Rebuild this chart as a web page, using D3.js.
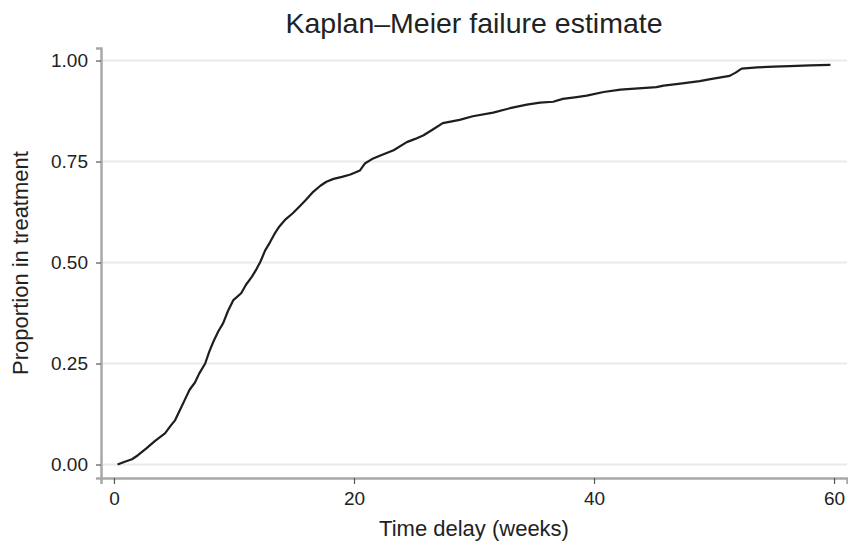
<!DOCTYPE html>
<html>
<head>
<meta charset="utf-8">
<script src="https://cdn.jsdelivr.net/npm/d3@7"></script>
<style>
  html, body { margin: 0; padding: 0; background: #fff; }
  svg text { font-family: "Liberation Sans", Arial, Helvetica, sans-serif; fill: #222; }
</style>
</head>
<body>
<div id="chart"></div>
<script>
// Kaplan-Meier failure estimate

const weeks = [0.3, 0.9, 1.5, 2.0, 2.7, 3.4, 4.25, 4.7, 5.1, 5.5, 5.9, 6.3, 6.75, 7.1, 7.6, 7.95,
    8.3, 8.7, 9.1, 9.5, 9.95, 10.6, 11.0, 11.5, 11.9, 12.2, 12.6, 13.0, 13.4, 13.8, 14.3, 14.9,
    15.5, 16.06, 16.6, 17.2, 17.7, 18.3, 19.0, 19.7, 20.5, 20.9, 21.5, 22.2, 23.3, 24.4, 25.1,
    25.8, 26.6, 27.4, 28.8, 29.9, 31.6, 33.0, 34.4, 35.5, 36.6, 37.4, 38.4, 39.4, 40.8, 42.2,
    43.7, 45.2, 45.8, 47.2, 48.8, 49.7, 51.3, 51.8, 52.3, 53.6, 55.0, 56.3, 58.0, 59.7];
const failure = [0, 0.007, 0.013, 0.023, 0.04, 0.058, 0.077, 0.095, 0.11, 0.135, 0.16, 0.185,
    0.203, 0.225, 0.25, 0.28, 0.305, 0.33, 0.35, 0.38, 0.407, 0.424, 0.445, 0.465, 0.485, 0.502,
    0.53, 0.55, 0.572, 0.59, 0.607, 0.622, 0.64, 0.657, 0.675, 0.69, 0.7, 0.707, 0.712, 0.718,
    0.728, 0.745, 0.756, 0.765, 0.778, 0.798, 0.806, 0.815, 0.83, 0.845, 0.853, 0.862, 0.871,
    0.882, 0.891, 0.896, 0.898, 0.905, 0.909, 0.913, 0.922, 0.928, 0.931, 0.934, 0.938, 0.943,
    0.949, 0.954, 0.962, 0.97, 0.98, 0.983, 0.985, 0.986, 0.988, 0.989];
const xTicks = [0, 20, 40, 60];
const yTicks = [0, 0.25, 0.5, 0.75, 1];

function renderChart() {
    const width = 848, height = 546;
    const svg = d3.select('#chart').append('svg')
        .attr('width', width)
        .attr('height', height);

    const x = d3.scaleLinear().domain([-1.08, 61.08]).range([101, 847]);
    const y = d3.scaleLinear().domain([-0.0334, 1.031]).range([478, 48]);

    // gridlines
    svg.append('g').selectAll('line').data(yTicks).enter().append('line')
        .attr('x1', 102).attr('x2', 847)
        .attr('y1', d => y(d)).attr('y2', d => y(d))
        .attr('stroke', '#e9e9e9')
        .attr('stroke-width', 2);

    // axes
    const yAxis = svg.append('g')
        .attr('transform', 'translate(101,0)')
        .call(d3.axisLeft(y).tickValues(yTicks).tickFormat(d3.format('.2f')).tickSize(5).tickPadding(8));
    const xAxis = svg.append('g')
        .attr('transform', 'translate(0,478)')
        .call(d3.axisBottom(x).tickValues(xTicks).tickSize(6).tickPadding(8));

    [xAxis, yAxis].forEach(ax => {
        ax.select('.domain').attr('stroke', '#a8a8a8').attr('stroke-width', 2.5);
        ax.selectAll('.tick line').attr('stroke', '#555').attr('stroke-width', 1.2);
        ax.selectAll('.tick text').style('font-size', '19px').style('fill', '#222');
    });

    // failure curve (fine steps in the original, drawn through the read points)
    const points = weeks.map((w, i) => [w, failure[i]]);
    const line = d3.line()
        .x(d => x(d[0]))
        .y(d => y(d[1]));
    svg.append('path')
        .datum(points)
        .attr('d', line)
        .attr('fill', 'none')
        .attr('stroke', '#1e1e1e')
        .attr('stroke-width', 2.2)
        .attr('stroke-linejoin', 'round');

    // titles
    svg.append('text')
        .attr('x', 474).attr('y', 33)
        .attr('text-anchor', 'middle')
        .style('font-size', '28.5px')
        .text('Kaplan–Meier failure estimate');

    svg.append('text')
        .attr('x', 474).attr('y', 536)
        .attr('text-anchor', 'middle')
        .style('font-size', '22px')
        .text('Time delay (weeks)');

    svg.append('text')
        .attr('transform', 'translate(28,263) rotate(-90)')
        .attr('text-anchor', 'middle')
        .style('font-size', '22px')
        .text('Proportion in treatment');
}

renderChart();
</script>
</body>
</html>
